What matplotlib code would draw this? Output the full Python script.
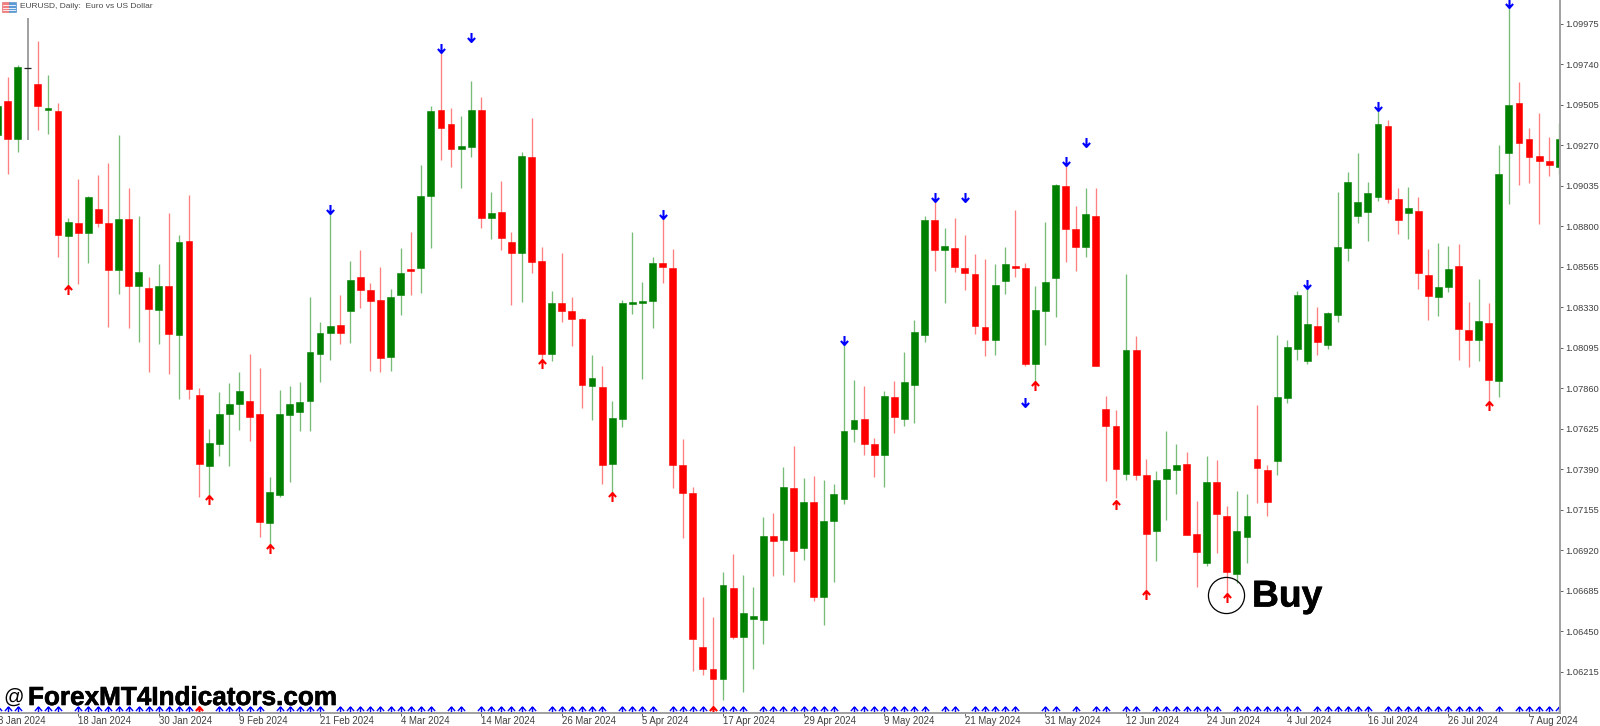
import numpy as np
import matplotlib
matplotlib.use('Agg')
import matplotlib.pyplot as plt
import matplotlib.patheffects as pe
from matplotlib.path import Path
from matplotlib.patches import Rectangle

# quotes in points (1 point = 0.00001)
opens = [109330,109528,109307,109720,109627,109476,109469,108744,108820,108762,
         108901,108820,108547,108843,108454,108443,108314,108454,108169,108715,
         107821,107409,107537,107711,107769,107786,107711,107078,107241,107705,
         107722,107786,108059,108181,108227,108308,108506,108431,108372,108041,
         108402,108553,108559,108976,109476,109394,109249,109260,109476,108849,
         108883,108709,108646,109202,108599,108059,108355,108308,108262,107873,
         107867,107421,107682,108349,108355,108367,108588,108559,107415,107253,
         106358,106231,106173,106700,106416,106521,106515,107002,106979,107282,
         106933,107200,106648,107089,107218,107624,107682,107537,107473,107810,
         107682,107879,108169,108837,108663,108675,108559,108524,108215,108140,
         108483,108570,108559,108001,108308,108500,109034,108785,108680,108860,
         107740,107641,107363,108082,107357,107031,107334,107386,107421,107014,
         106846,107316,107118,106782,106996,107450,107386,107438,107804,108088,
         108018,108221,108111,108285,108675,108860,108883,108970,109383,108959,
         108878,108889,108518,108390,108448,108570,108198,108140,108239,107902,
         109226,109516,109307,109208,109179,109144]
closes = [109499,109307,109725,109720,109499,109488,108750,108825,108762,108970,
          108820,108547,108843,108454,108535,108320,108454,108175,108709,107856,
          107421,107543,107711,107769,107844,107693,107083,107258,107711,107769,
          107780,108070,108181,108221,108181,108489,108431,108367,108036,108390,
          108530,108541,108976,109469,109371,109249,109266,109476,108849,108878,
          108733,108646,109208,108593,108059,108355,108308,108262,107879,107920,
          107415,107688,108355,108361,108367,108588,108564,107415,107253,106405,
          106231,106173,106718,106416,106556,106538,107002,106973,107287,106915,
          107200,106648,107089,107247,107612,107676,107537,107473,107815,107693,
          107896,108186,108837,108663,108686,108564,108530,108221,108140,108460,
          108582,108559,108001,108314,108477,109040,108785,108680,108872,107989,
          107641,107392,108082,107357,107014,107328,107392,107415,107008,106909,
          107316,107130,106793,107031,107118,107398,107200,107810,108099,108402,
          108233,108128,108297,108680,109057,108941,108994,109394,108959,108837,
          108907,108530,108396,108448,108553,108204,108140,108250,107908,109104,
          109505,109284,109202,109179,109156,109307]
highs = [109563,109667,109737,110010,109876,109679,109516,108849,109075,108976,
         109098,109168,109330,109023,108860,108506,108582,108878,108750,108982,
         107862,107624,107838,107891,107954,108059,107978,107345,107850,107873,
         107896,108390,108244,108878,108402,108599,108663,108472,108564,108437,
         108675,108767,109156,109499,109824,109488,109441,109644,109551,108999,
         109063,108767,109231,109429,108680,108425,108646,108390,108268,108053,
         107989,107786,108372,108767,108477,108622,108849,108669,107566,107287,
         106648,106532,106793,106898,106776,106706,107112,107136,107403,107525,
         107339,107351,107328,107305,108117,107908,107873,107572,107844,107902,
         108070,108256,108860,108941,108791,108849,108750,108640,108611,108582,
         108680,108895,108588,108454,108825,109046,109156,108918,109023,109023,
         107815,107734,108524,108163,107450,107380,107612,107537,107490,107206,
         107467,107444,107177,107264,107247,107763,107415,108169,108140,108425,
         108443,108332,108303,108999,109115,109226,109057,109476,109417,109023,
         109028,108970,108669,108703,108686,108698,108361,108495,108355,109272,
         110091,109638,109371,109458,109319,109400]
lows = [109272,109104,109231,109301,109359,109336,108622,108448,108466,108588,
        108796,108215,108408,108210,108128,107954,108117,107943,107798,107798,
        107229,107229,107467,107409,107618,107554,106996,106950,107229,107316,
        107612,107612,107896,108024,108117,108123,108326,107960,107954,107960,
        108285,108402,108414,108675,109185,109144,109023,109202,108791,108727,
        108663,108344,108361,108530,108024,108018,108244,108105,107746,107676,
        107305,107253,107635,108291,107914,108210,108472,107282,106990,106219,
        106196,106015,106050,106405,106097,106231,106376,106770,106776,106735,
        106863,106625,106486,106735,107188,107549,107473,107345,107287,107600,
        107641,107659,108128,108541,108355,108535,108431,108175,108047,108053,
        108408,108506,107989,107891,108111,108273,108593,108541,108622,107989,
        107322,107224,107328,107328,106689,106857,107095,107247,107008,106706,
        106828,106904,106666,106730,106846,107194,107118,107357,107775,108024,
        108001,108053,108088,108244,108599,108820,108715,108947,108936,108756,
        108727,108437,108256,108279,108419,108024,107983,108018,107780,107810,
        108930,109040,109052,108814,109092,109104]

# signal arrows: bar number and price in points
up_bars = [7, 20, 21, 27, 54, 61, 71, 103, 111, 114, 122, 148]
up_prices = [108431, 105987, 107212, 106927, 108001, 107229, 105987, 107873, 107182, 106660, 106643, 107757]
down_bars = [33, 44, 47, 66, 84, 93, 96, 102, 106, 108, 130, 137, 150]
down_prices = [108901, 109836, 109899, 108872, 108140, 108970, 108970, 107780, 109179, 109290, 108466, 109499, 110097]

# bars with no blue mark on the bottom row
no_base_mark = [3, 7, 20, 21, 27, 33, 44, 47, 54, 61, 66, 71, 75, 84, 93, 96, 102, 103,
                106, 108, 111, 114, 122, 130, 137, 148, 150]
base_price = 105987

price_ticks = [106215, 106450, 106685, 106920, 107155, 107390, 107625, 107860, 108095, 108330,
               108565, 108800, 109035, 109270, 109505, 109740, 109975]
date_labels = ['8 Jan 2024', '18 Jan 2024', '30 Jan 2024', '9 Feb 2024', '21 Feb 2024', '4 Mar 2024',
               '14 Mar 2024', '26 Mar 2024', '5 Apr 2024', '17 Apr 2024', '29 Apr 2024', '9 May 2024',
               '21 May 2024', '31 May 2024', '12 Jun 2024', '24 Jun 2024', '4 Jul 2024', '16 Jul 2024',
               '26 Jul 2024', '7 Aug 2024']

POINT = 1e-5
W, H = 1600, 726
RED, GREEN = '#ff0000', '#008000'

fig = plt.figure(figsize=(W / 100, H / 100), dpi=100, facecolor='white')
ax = fig.add_axes([0, 1 - 712.5 / H, 1560 / W, 712.5 / H])
ax.set_xlim(0.236, 155.07)
ax.set_ylim(1.05978, 1.10114)

o = np.array(opens) * POINT
c = np.array(closes) * POINT
h = np.array(highs) * POINT
l = np.array(lows) * POINT
x = np.arange(len(o))
up = c > o
down = c < o
flat = c == o

# wicks
ax.vlines(x[up], l[up], h[up], color='#78bc78', lw=0.95, zorder=1)
ax.vlines(x[down], l[down], h[down], color='#ff8080', lw=0.95, zorder=1)
ax.vlines(x[flat], l[flat], h[flat], color='#909090', lw=1.2, zorder=1)

# bodies
for mask, col in [(up, GREEN), (down, RED)]:
    ax.bar(x[mask], np.abs(c[mask] - o[mask]), bottom=np.minimum(o[mask], c[mask]), width=0.68,
           color=col, edgecolor=col, linewidth=0.4, zorder=2)
ax.hlines(c[flat], x[flat] - 0.34, x[flat] + 0.34, color='#202020', lw=0.9, zorder=2)

# arrow shapes
up_arrow = Path([(0, -1), (0, 1), (-0.8, 0.1), (0, 1), (0.8, 0.1)],
                [Path.MOVETO, Path.LINETO, Path.MOVETO, Path.LINETO, Path.LINETO])
down_arrow = Path([(0, 1), (0, -1), (-0.8, -0.1), (0, -1), (0.8, -0.1)],
                  [Path.MOVETO, Path.LINETO, Path.MOVETO, Path.LINETO, Path.LINETO])

ax.plot(up_bars, np.array(up_prices) * POINT, ls='none', marker=up_arrow, ms=6.5, mfc='none',
        mec=RED, mew=1.5, zorder=4)
ax.plot(down_bars, np.array(down_prices) * POINT, ls='none', marker=down_arrow, ms=6.5, mfc='none',
        mec='#0000ff', mew=1.5, zorder=4)

base_bars = [b for b in x if b not in no_base_mark]
ax.plot(base_bars, [base_price * POINT] * len(base_bars), ls='none', marker=up_arrow, ms=6.5,
        mfc='none', mec='#0000ff', mew=1.0, zorder=3)

# axes
for s in ['top', 'left']:
    ax.spines[s].set_visible(False)
for s in ['right', 'bottom']:
    ax.spines[s].set_color('#a0a0a0')
    ax.spines[s].set_linewidth(1.4)
    ax.spines[s].set_zorder(5)

ax.yaxis.tick_right()
ax.set_yticks(np.array(price_ticks) * POINT)
ax.set_yticklabels(['%.5f' % (p * POINT) for p in price_ticks], fontsize=6.7,
                   fontfamily='Liberation Sans', color='#404040')
ax.tick_params(axis='y', length=2.2, width=0.7, color='#606060', pad=1.5)

date_pos = np.arange(len(date_labels)) * 8
ax.set_xticks(date_pos[1:])
ax.set_xticklabels([])
ax.tick_params(axis='x', length=2.2, width=0.7, color='#606060')
for pos, lab in zip(date_pos, date_labels):
    ax.annotate(lab, xy=(pos, 0), xycoords=('data', 'axes fraction'), xytext=(0, -6.2),
                textcoords='offset points', ha='left', va='center', fontsize=6.9,
                fontfamily='Liberation Sans', color='#404040', annotation_clip=False)

# buy circle
ax.plot([120.92 + 1], [106660 * POINT], marker='o', ms=26, mfc='none', mec='black', mew=0.9, zorder=5)


def fx(px):
    return px / W


def fy(py):
    return 1 - py / H


# header icon
fig.add_artist(Rectangle((fx(2), fy(12)), 7 / W, 10 / H, transform=fig.transFigure, fc='#f08080', ec='#e06060', lw=0.4))
fig.add_artist(Rectangle((fx(9), fy(12)), 7 / W, 10 / H, transform=fig.transFigure, fc='#5a9bd5', ec='#4a8bc5', lw=0.4))
for yy in [5, 7.5, 10]:
    fig.add_artist(plt.Line2D([fx(3), fx(15)], [fy(yy), fy(yy)], color='white', lw=0.6))

fig.text(fx(20), fy(7), 'EURUSD, Daily:  Euro vs US Dollar', fontsize=6.05, fontfamily='Liberation Sans',
         color='#484848', ha='left', va='center')

heavy = [pe.withStroke(linewidth=0.45, foreground='black')]
fig.text(fx(3), fy(697), '@', fontsize=14.5, fontfamily='Liberation Sans', color='black', ha='left', va='center')
fig.text(fx(28), fy(698), 'ForexMT4Indicators.com', fontsize=18.8, fontweight='bold',
         fontfamily='Liberation Sans', color='black', ha='left', va='center', path_effects=heavy)
fig.text(fx(1252), fy(597), 'Buy', fontsize=26.8, fontweight='bold', fontfamily='Liberation Sans',
         color='black', ha='left', va='center', path_effects=heavy)

fig.savefig('out.png', dpi=100, facecolor='white')
plt.close(fig)
